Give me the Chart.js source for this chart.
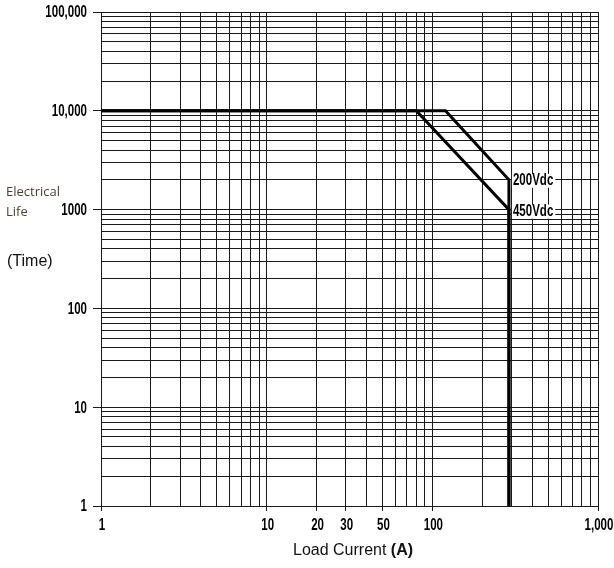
<!DOCTYPE html>
<html>
<head>
<meta charset="utf-8">
<script src="https://cdn.jsdelivr.net/npm/chart.js@4.4.1/dist/chart.umd.min.js"></script>
<style>
html, body { margin: 0; padding: 0; background: #fff; }
#wrap { width: 614px; height: 568px; }
</style>
</head>
<body>
<div id="wrap"><canvas id="lifeChart"></canvas></div>
<script>
// electrical life curves (load current A -> operations)
const currents200 = [1, 120, 290, 290];
const life200 = [10000, 10000, 2000, 1];
const currents450 = [1, 80, 290, 290];
const life450 = [10000, 10000, 1000, 1];

const xLabelValues = [1, 10, 20, 30, 50, 100, 1000];
const xLabelTexts = ["1", "10", "20", "30", "50", "100", "1,000"];
const yLabelValues = [1, 10, 100, 1000, 10000, 100000];
const yLabelTexts = ["1", "10", "100", "1000", "10,000", "100,000"];
const gridSteps = [1, 2, 3, 4, 5, 6, 7, 8, 9];

const boldFont = "bold 16px 'Liberation Sans', Arial, sans-serif";
const squeeze = 0.72;

function logGrid(min, max) {
    const out = [];
    for (let d = min; d < max; d *= 10) {
        for (const s of gridSteps) out.push({ value: s * d });
    }
    out.push({ value: max });
    return out;
}

function labelFor(values, texts, v) {
    const i = values.findIndex(t => Math.abs(t - v) < 1e-6 * t);
    return i < 0 ? "" : texts[i];
}

// condensed bold text, like the narrow face on the original sheet
function narrowText(c, txt, x, y, align) {
    c.save();
    c.font = boldFont;
    c.textBaseline = "middle";
    c.textAlign = "left";
    const w = c.measureText(txt).width * squeeze;
    let left = x;
    if (align === "right") left = x - w;
    if (align === "center") left = x - w / 2;
    c.translate(left, y);
    c.scale(squeeze, 1);
    c.fillText(txt, 0, 0);
    c.restore();
    return w;
}

const textPlugin = {
    id: "texts",
    afterDraw(chart) {
        const c = chart.ctx;
        const xs = chart.scales.x, ys = chart.scales.y;
        c.save();
        c.fillStyle = "#000";
        // tick labels
        yLabelValues.forEach((v, i) => {
            narrowText(c, yLabelTexts[i], 87, ys.getPixelForValue(v) + 1, "right");
        });
        xLabelValues.forEach((v, i) => {
            narrowText(c, xLabelTexts[i], xs.getPixelForValue(v) + 1, 526, "center");
        });
        // curve labels
        const tags = [["200Vdc", life200[2], 1], ["450Vdc", life450[2], 2]];
        tags.forEach(([t, v, dy]) => {
            const px = xs.getPixelForValue(currents200[2]) + 3;
            const py = ys.getPixelForValue(v) + dy;
            c.font = boldFont;
            const w = c.measureText(t).width * squeeze;
            c.fillStyle = "#fff";
            c.fillRect(px, py - 7, w + 3, 14);
            c.fillStyle = "#000";
            narrowText(c, t, px + 1, py, "left");
        });
        // y title
        c.textBaseline = "alphabetic";
        c.textAlign = "left";
        c.font = "13px 'Open Sans', sans-serif";
        c.fillStyle = "#4e3e32";
        c.fillText("Electrical", 6, 196);
        c.fillText("Life", 6, 216);
        c.font = "16px 'Liberation Sans', Arial, sans-serif";
        c.fillStyle = "#111";
        c.fillText("(Time)", 7, 266);
        // x title
        const p1 = "Load Current ";
        const p2 = "(A)";
        c.font = "16px 'Liberation Sans', Arial, sans-serif";
        const w1 = c.measureText(p1).width;
        c.font = "bold 16px 'Liberation Sans', Arial, sans-serif";
        const w2 = c.measureText(p2).width;
        const x0 = 353 - (w1 + w2) / 2;
        c.font = "16px 'Liberation Sans', Arial, sans-serif";
        c.fillText(p1, x0, 555);
        c.font = "bold 16px 'Liberation Sans', Arial, sans-serif";
        c.fillText(p2, x0 + w1, 555);
        c.restore();
    }
};

new Chart(document.getElementById("lifeChart"), {
    type: "line",
    data: {
        datasets: [
            {
                label: "200Vdc",
                data: currents200.map((x, i) => ({ x: x, y: life200[i] })),
                borderColor: "#000",
                borderWidth: 3,
                pointRadius: 0,
                fill: false,
            },
            {
                label: "450Vdc",
                data: currents450.map((x, i) => ({ x: x, y: life450[i] })),
                borderColor: "#000",
                borderWidth: 3,
                pointRadius: 0,
                fill: false,
            },
        ],
    },
    options: {
        responsive: true,
        maintainAspectRatio: false,
        animation: false,
        layout: { padding: { left: 0, right: 16, top: 12, bottom: 0 } },
        plugins: {
            legend: { display: false },
            tooltip: { enabled: false },
        },
        scales: {
            x: {
                type: "logarithmic",
                min: 1,
                max: 1000,
                afterBuildTicks: (s) => { s.ticks = logGrid(1, 1000); },
                afterFit: (s) => { s.height = 62; s.paddingLeft = 0; s.paddingRight = 0; },
                grid: {
                    color: "#1a1a1a",
                    lineWidth: 1,
                    tickLength: 5,
                    tickColor: (ctx) => labelFor(xLabelValues, xLabelTexts, ctx.tick.value) ? "#1a1a1a" : "rgba(0,0,0,0)",
                },
                border: { color: "#1a1a1a", width: 1 },
                ticks: { display: false, autoSkip: false },
            },
            y: {
                type: "logarithmic",
                min: 1,
                max: 100000,
                afterBuildTicks: (s) => { s.ticks = logGrid(1, 100000); },
                afterFit: (s) => { s.width = 101; s.paddingTop = 0; s.paddingBottom = 0; },
                grid: {
                    color: "#1a1a1a",
                    lineWidth: 1,
                    tickLength: 8,
                    tickColor: (ctx) => labelFor(yLabelValues, yLabelTexts, ctx.tick.value) ? "#1a1a1a" : "rgba(0,0,0,0)",
                },
                border: { color: "#1a1a1a", width: 1 },
                ticks: { display: false, autoSkip: false },
            },
        },
    },
    plugins: [textPlugin],
});
</script>
</body>
</html>
